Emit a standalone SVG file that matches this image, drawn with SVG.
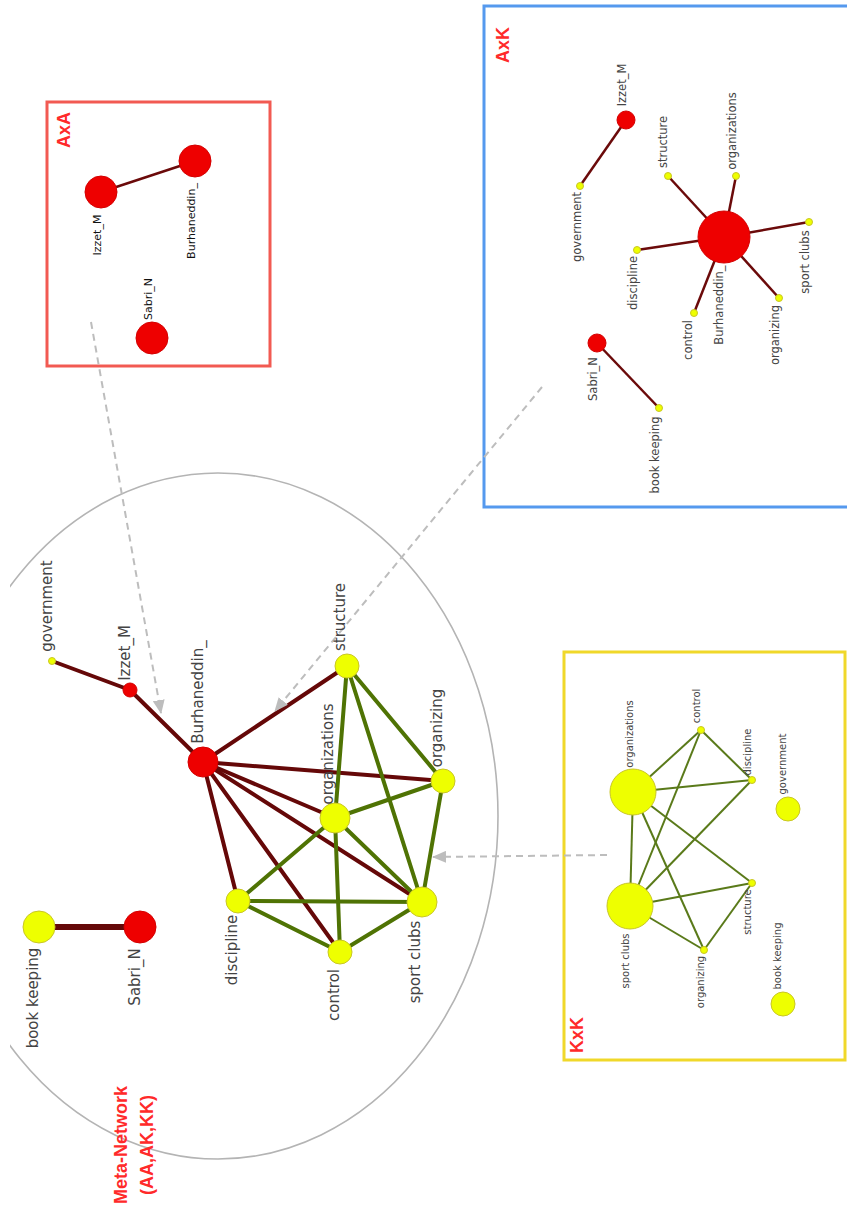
<svg xmlns="http://www.w3.org/2000/svg" width="847" height="1219" viewBox="0 0 847 1219">
<style>
.lbl{font-family:"DejaVu Sans",Verdana,sans-serif;fill:#444;text-anchor:middle}
.m{font-size:15px}
.s{font-size:11.5px}
.a{font-size:11px;fill:#111}
.k{font-size:10px}
.ttl{font-family:"Liberation Sans",Arial,sans-serif;font-weight:bold;fill:#ff2a2a;font-size:18px;text-anchor:middle}
.red{fill:#ee0000;stroke:#d40000;stroke-width:1}
.yel{fill:#eeff00;stroke:#c9c626;stroke-width:1}
.er{stroke:#650808;stroke-width:4;stroke-linecap:round;fill:none}
.eg{stroke:#4f7304;stroke-width:4;stroke-linecap:round;fill:none}
.ers{stroke:#6b0a0a;stroke-width:2.5;fill:none}
.egs{stroke:#5a7a1a;stroke-width:2;fill:none}
.dash{stroke:#bdbdbd;stroke-width:2;stroke-dasharray:7 5;fill:none}
</style>
<defs>
<marker id="ah" markerUnits="userSpaceOnUse" markerWidth="14" markerHeight="12" refX="13" refY="6" orient="auto">
<path d="M0,0 L14,6 L0,12 z" fill="#bdbdbd"/>
</marker>
<clipPath id="clipL"><rect x="10" y="0" width="847" height="1219"/></clipPath>
</defs>
<rect width="847" height="1219" fill="#ffffff"/>

<!-- Meta-network ellipse -->
<g id="meta-network">
<ellipse cx="218" cy="816" rx="280" ry="343" fill="none" stroke="#b4b4b4" stroke-width="1.6" clip-path="url(#clipL)"/>
<text class="ttl" transform="translate(127,1145) rotate(-90)">Meta-Network</text>
<text class="ttl" transform="translate(153,1145) rotate(-90)">(AA,AK,KK)</text>
</g>

<!-- Panel frames -->
<g id="panel-AxA">
<rect x="47" y="102" width="223" height="264" fill="none" stroke="#f25a52" stroke-width="3"/>
<text class="ttl" transform="translate(70,130) rotate(-90)">AxA</text>
</g>
<g id="panel-AxK">
<rect x="484" y="6" width="372" height="501" fill="none" stroke="#5599ee" stroke-width="3"/>
<text class="ttl" transform="translate(509,45) rotate(-90)">AxK</text>
</g>
<g id="panel-KxK">
<rect x="564" y="652" width="281" height="408" fill="none" stroke="#f0d82a" stroke-width="3"/>
<text class="ttl" transform="translate(583,1035) rotate(-90)">KxK</text>
</g>

<!-- connectors -->
<g id="connectors">
<line class="er" x1="52" y1="661" x2="130" y2="690"/>
<line class="er" x1="130" y1="690" x2="203" y2="762"/>
<line class="er" x1="203" y1="762" x2="347" y2="666"/>
<line class="er" x1="203" y1="762" x2="443" y2="781"/>
<line class="er" x1="203" y1="762" x2="335" y2="818"/>
<line class="er" x1="203" y1="762" x2="422" y2="902"/>
<line class="er" x1="203" y1="762" x2="340" y2="952"/>
<line class="er" x1="203" y1="762" x2="238" y2="901"/>
<line class="er" x1="39" y1="927" x2="140" y2="927" style="stroke-width:6"/>
<line class="eg" x1="347" y1="666" x2="335" y2="818"/>
<line class="eg" x1="347" y1="666" x2="422" y2="902"/>
<line class="eg" x1="347" y1="666" x2="443" y2="781"/>
<line class="eg" x1="443" y1="781" x2="335" y2="818"/>
<line class="eg" x1="443" y1="781" x2="422" y2="902"/>
<line class="eg" x1="335" y1="818" x2="238" y2="901"/>
<line class="eg" x1="335" y1="818" x2="340" y2="952"/>
<line class="eg" x1="335" y1="818" x2="422" y2="902"/>
<line class="eg" x1="238" y1="901" x2="422" y2="902"/>
<line class="eg" x1="238" y1="901" x2="340" y2="952"/>
<line class="eg" x1="340" y1="952" x2="422" y2="902"/>
<line class="ers" x1="101" y1="192" x2="195" y2="161"/>
<line class="ers" x1="626" y1="120" x2="580" y2="186"/>
<line class="ers" x1="724" y1="237" x2="668" y2="176"/>
<line class="ers" x1="724" y1="237" x2="736" y2="176"/>
<line class="ers" x1="724" y1="237" x2="809" y2="222"/>
<line class="ers" x1="724" y1="237" x2="637" y2="250"/>
<line class="ers" x1="724" y1="237" x2="694" y2="313"/>
<line class="ers" x1="724" y1="237" x2="779" y2="298"/>
<line class="ers" x1="597" y1="343" x2="659" y2="408"/>
<line class="egs" x1="633" y1="792" x2="701" y2="730"/>
<line class="egs" x1="633" y1="792" x2="752" y2="780"/>
<line class="egs" x1="633" y1="792" x2="630" y2="906"/>
<line class="egs" x1="633" y1="792" x2="704" y2="950"/>
<line class="egs" x1="633" y1="792" x2="752" y2="883"/>
<line class="egs" x1="701" y1="730" x2="752" y2="780"/>
<line class="egs" x1="701" y1="730" x2="630" y2="906"/>
<line class="egs" x1="752" y1="780" x2="630" y2="906"/>
<line class="egs" x1="630" y1="906" x2="752" y2="883"/>
<line class="egs" x1="630" y1="906" x2="704" y2="950"/>
<line class="egs" x1="752" y1="883" x2="704" y2="950"/>
<line class="dash" x1="91" y1="322" x2="161" y2="713" marker-end="url(#ah)"/>
<line class="dash" x1="542" y1="387" x2="275" y2="711" marker-end="url(#ah)"/>
<line class="dash" x1="607" y1="855" x2="433" y2="857" marker-end="url(#ah)"/>
</g>

<!-- main meta-network nodes -->
<g id="m-government"><circle class="yel" cx="52" cy="661" r="3.5"/><text class="lbl m" transform="translate(52,606) rotate(-90)">government</text></g>
<g id="m-izzet"><circle class="red" cx="130" cy="690" r="7"/><text class="lbl m" transform="translate(130,653) rotate(-90)">Izzet_M</text></g>
<g id="m-burhaneddin"><circle class="red" cx="203" cy="762" r="15"/><text class="lbl m" transform="translate(203,692) rotate(-90)">Burhaneddin_</text></g>
<g id="m-structure"><circle class="yel" cx="347" cy="666" r="12"/><text class="lbl m" transform="translate(345,617) rotate(-90)">structure</text></g>
<g id="m-organizing"><circle class="yel" cx="443" cy="781" r="12"/><text class="lbl m" transform="translate(442,728) rotate(-90)">organizing</text></g>
<g id="m-organizations"><circle class="yel" cx="335" cy="818" r="15"/><text class="lbl m" transform="translate(333,754) rotate(-90)">organizations</text></g>
<g id="m-discipline"><circle class="yel" cx="238" cy="901" r="12"/><text class="lbl m" transform="translate(237,950) rotate(-90)">discipline</text></g>
<g id="m-control"><circle class="yel" cx="340" cy="952" r="12"/><text class="lbl m" transform="translate(339,995) rotate(-90)">control</text></g>
<g id="m-sportclubs"><circle class="yel" cx="422" cy="902" r="15"/><text class="lbl m" transform="translate(420,962) rotate(-90)">sport clubs</text></g>
<g id="m-bookkeeping"><circle class="yel" cx="39" cy="927" r="16"/><text class="lbl m" transform="translate(38,998) rotate(-90)">book keeping</text></g>
<g id="m-sabri"><circle class="red" cx="140" cy="927" r="16"/><text class="lbl m" transform="translate(140,977) rotate(-90)">Sabri_N</text></g>

<!-- AxA nodes -->
<g id="aa-burhaneddin"><circle class="red" cx="195" cy="161" r="16"/><text class="lbl a" transform="translate(195,221) rotate(-90)">Burhaneddin_</text></g>
<g id="aa-izzet"><circle class="red" cx="101" cy="192" r="16"/><text class="lbl a" transform="translate(101,235) rotate(-90)">Izzet_M</text></g>
<g id="aa-sabri"><circle class="red" cx="152" cy="338" r="16"/><text class="lbl a" transform="translate(152,299) rotate(-90)">Sabri_N</text></g>

<!-- AxK nodes -->
<g id="ak-izzet"><circle class="red" cx="626" cy="120" r="9"/><text class="lbl s" transform="translate(626,85) rotate(-90)">Izzet_M</text></g>
<g id="ak-government"><circle class="yel" cx="580" cy="186" r="3.5"/><text class="lbl s" transform="translate(581,227) rotate(-90)">government</text></g>
<g id="ak-structure"><circle class="yel" cx="668" cy="176" r="3.5"/><text class="lbl s" transform="translate(667,142) rotate(-90)">structure</text></g>
<g id="ak-organizations"><circle class="yel" cx="736" cy="176" r="3.5"/><text class="lbl s" transform="translate(736,131) rotate(-90)">organizations</text></g>
<g id="ak-burhaneddin"><circle class="red" cx="724" cy="237" r="26"/><text class="lbl s" transform="translate(723,305) rotate(-90)">Burhaneddin_</text></g>
<g id="ak-sportclubs"><circle class="yel" cx="809" cy="222" r="3.5"/><text class="lbl s" transform="translate(809,262) rotate(-90)">sport clubs</text></g>
<g id="ak-discipline"><circle class="yel" cx="637" cy="250" r="3.5"/><text class="lbl s" transform="translate(637,283) rotate(-90)">discipline</text></g>
<g id="ak-control"><circle class="yel" cx="694" cy="313" r="3.5"/><text class="lbl s" transform="translate(692,340) rotate(-90)">control</text></g>
<g id="ak-organizing"><circle class="yel" cx="779" cy="298" r="3.5"/><text class="lbl s" transform="translate(779,335) rotate(-90)">organizing</text></g>
<g id="ak-sabri"><circle class="red" cx="597" cy="343" r="9"/><text class="lbl s" transform="translate(597,379) rotate(-90)">Sabri_N</text></g>
<g id="ak-bookkeeping"><circle class="yel" cx="659" cy="408" r="3.5"/><text class="lbl s" transform="translate(659,455) rotate(-90)">book keeping</text></g>

<!-- KxK nodes -->
<g id="kk-organizations"><circle class="yel" cx="633" cy="792" r="23"/><text class="lbl k" transform="translate(633,734) rotate(-90)">organizations</text></g>
<g id="kk-control"><circle class="yel" cx="701" cy="730" r="3.5"/><text class="lbl k" transform="translate(700,706) rotate(-90)">control</text></g>
<g id="kk-discipline"><circle class="yel" cx="752" cy="780" r="3.5"/><text class="lbl k" transform="translate(751,752) rotate(-90)">discipline</text></g>
<g id="kk-government"><circle class="yel" cx="788" cy="809" r="12"/><text class="lbl k" transform="translate(786,764) rotate(-90)">government</text></g>
<g id="kk-sportclubs"><circle class="yel" cx="630" cy="906" r="23"/><text class="lbl k" transform="translate(629,961) rotate(-90)">sport clubs</text></g>
<g id="kk-structure"><circle class="yel" cx="752" cy="883" r="3.5"/><text class="lbl k" transform="translate(751,912) rotate(-90)">structure</text></g>
<g id="kk-organizing"><circle class="yel" cx="704" cy="950" r="3.5"/><text class="lbl k" transform="translate(704,982) rotate(-90)">organizing</text></g>
<g id="kk-bookkeeping"><circle class="yel" cx="783" cy="1004" r="12"/><text class="lbl k" transform="translate(781,956) rotate(-90)">book keeping</text></g>
</svg>
